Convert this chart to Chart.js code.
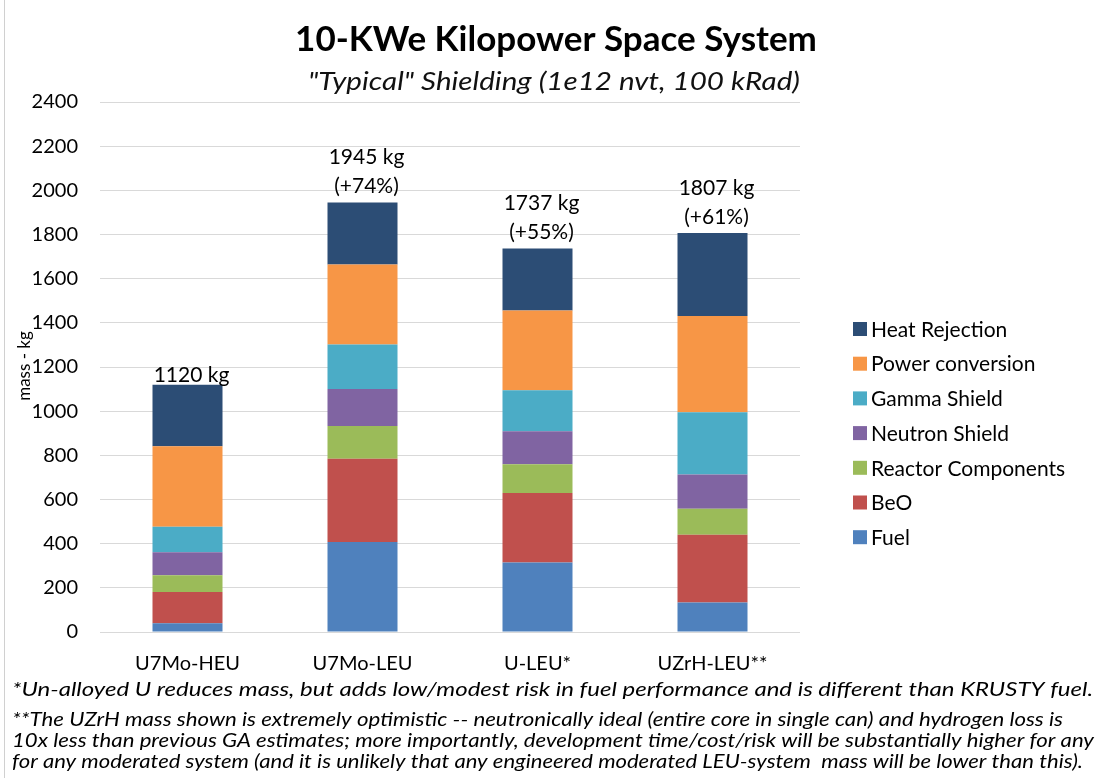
<!DOCTYPE html>
<html>
<head>
<meta charset="utf-8">
<script src="https://cdn.jsdelivr.net/npm/chart.js@4/dist/chart.umd.min.js"></script>
<style>
html,body{margin:0;padding:0;background:#fff;}
#wrap{width:1107px;height:778px;position:relative;}
</style>
</head>
<body>
<div id="wrap"><canvas id="c" width="1107" height="778"></canvas></div>
<script>
// ---- data ----
const categories = ['U7Mo-HEU', 'U7Mo-LEU', 'U-LEU*', 'UZrH-LEU**'];
const fuel      = [40, 408, 315, 134];
const beo       = [141, 376, 314, 306];
const reactor   = [76, 149, 131, 118];
const neutron   = [104, 167, 149, 155];
const gamma     = [116, 202, 186, 282];
const power     = [364, 362, 361, 436];
const heat      = [279, 281, 281, 376];
const totalLabels  = ['1120 kg', '1945 kg', '1737 kg', '1807 kg'];
const changeLabels = ['', '(+74%)', '(+55%)', '(+61%)'];
const seriesNames = ['Fuel', 'BeO', 'Reactor Components', 'Neutron Shield', 'Gamma Shield', 'Power conversion', 'Heat Rejection'];
const seriesColors = ['#4F81BD', '#C0504D', '#9BBB59', '#8064A2', '#4BACC6', '#F79646', '#2C4D75'];
const titleText = '10-KWe Kilopower Space System';
const subtitleText = '"Typical" Shielding (1e12 nvt, 100 kRad)';
const yAxisTitle = 'mass - kg';
const footnotes = [
  '*Un-alloyed U reduces mass, but adds low/modest risk in fuel performance and is different than KRUSTY fuel.',
  '**The UZrH mass shown is extremely optimistic -- neutronically ideal (entire core in single can) and hydrogen loss is',
  '10x less than previous GA estimates; more importantly, development time/cost/risk will be substantially higher for any',
  'for any moderated system (and it is unlikely that any engineered moderated LEU-system  mass will be lower than this).'
];
const yMin = 0, yMax = 2400, yStep = 200;

const seriesValues = [fuel, beo, reactor, neutron, gamma, power, heat];
const FONT = 'Lato, "Open Sans", "DejaVu Sans", sans-serif';

// draw text stretched/compressed horizontally to a target width
function drawFit(ctx, text, x, y, width, align) {
  const w = ctx.measureText(text).width;
  const sx = width / w;
  ctx.save();
  ctx.textAlign = 'left';
  const left = align === 'center' ? x - width / 2 : x;
  ctx.translate(left, y);
  ctx.scale(sx, 1);
  ctx.fillText(text, 0, 0);
  ctx.restore();
}

const decorPlugin = {
  id: 'decor',
  afterDraw(chart) {
    const ctx = chart.ctx;
    ctx.save();
    // frame line at left
    ctx.strokeStyle = '#D0D0D0';
    ctx.lineWidth = 1;
    ctx.beginPath(); ctx.moveTo(4.5, 0); ctx.lineTo(4.5, 778); ctx.stroke();

    // title
    ctx.fillStyle = '#000';
    ctx.textAlign = 'center';
    ctx.textBaseline = 'middle';
    ctx.font = 'bold 35px ' + FONT;
    ctx.fillText(titleText, 556, 40);
    ctx.font = 'italic 26px ' + FONT;
    ctx.fillStyle = '#111';
    drawFit(ctx, subtitleText, 554, 82, 492, 'center');

    // y axis title
    ctx.save();
    ctx.textAlign = 'center';
    ctx.translate(25, 366);
    ctx.rotate(-Math.PI / 2);
    ctx.font = '17px ' + FONT;
    ctx.fillStyle = '#000';
    ctx.fillText(yAxisTitle, 0, 0);
    ctx.restore();

    // total labels above bars
    const lastMeta = chart.getDatasetMeta(chart.data.datasets.length - 1);
    ctx.font = '21px ' + FONT;
    ctx.fillStyle = '#000';
    ctx.textAlign = 'center';
    lastMeta.data.forEach((bar, i) => {
      const x = bar.x + 4;
      const top = bar.y;
      if (changeLabels[i]) {
        ctx.fillText(totalLabels[i], x, top - 45);
        ctx.fillText(changeLabels[i], x, top - 16);
      } else {
        ctx.fillText(totalLabels[i], x, top - 9);
      }
    });

    // legend (reversed order)
    ctx.textAlign = 'left';
    ctx.font = '21px ' + FONT;
    const n = seriesNames.length;
    for (let k = 0; k < n; k++) {
      const idx = n - 1 - k;
      const cy = 329 + k * 34.7;
      ctx.fillStyle = seriesColors[idx];
      ctx.fillRect(853, cy - 7, 14, 14);
      ctx.fillStyle = '#000';
      ctx.fillText(seriesNames[idx], 871, cy + 1);
    }

    // footnotes
    ctx.font = 'italic 20px ' + FONT;
    ctx.fillStyle = '#000';
    const fy = [690, 720, 741, 762];
    const fw = [1081, 1051, 1082, 1071];
    footnotes.forEach((t, i) => drawFit(ctx, t, 12, fy[i], fw[i], 'left'));
    ctx.restore();
  }
};

new Chart(document.getElementById('c'), {
  type: 'bar',
  data: {
    labels: categories,
    datasets: seriesValues.map((vals, i) => ({
      label: seriesNames[i],
      data: vals,
      backgroundColor: seriesColors[i],
      borderWidth: 0,
      barPercentage: 0.4,
      categoryPercentage: 1.0
    }))
  },
  options: {
    responsive: false,
    animation: false,
    devicePixelRatio: 1,
    layout: { padding: { left: 0, right: 307, top: 102, bottom: 106 } },
    plugins: { legend: { display: false }, title: { display: false }, tooltip: { enabled: false } },
    scales: {
      x: {
        stacked: true,
        grid: { display: false, drawTicks: false },
        border: { display: false },
        ticks: { color: '#000', font: { family: FONT, size: 20 }, padding: 20 },
        afterFit(s) { s.height = 40; }
      },
      y: {
        stacked: true,
        min: yMin, max: yMax,
        grid: { color: '#D9D9D9', lineWidth: 1, drawTicks: false },
        border: { display: false },
        ticks: { stepSize: yStep, color: '#000', font: { family: FONT, size: 20 }, padding: 22,
                 callback: (v) => String(v) },
        afterFit(s) { s.width = 100; }
      }
    }
  },
  plugins: [decorPlugin]
});
</script>
</body>
</html>
